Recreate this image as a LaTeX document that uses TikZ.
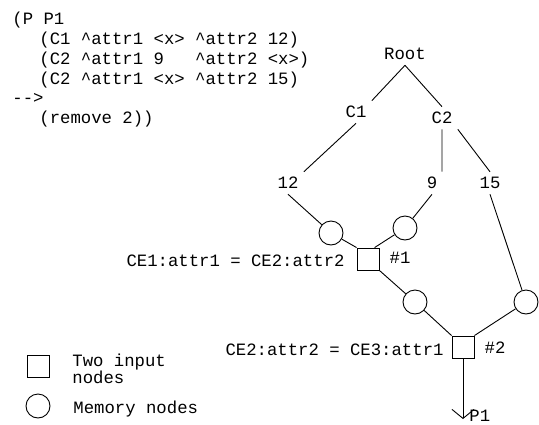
\documentclass[tikz,border=0pt]{standalone}
\usepackage{fontspec}
\setmonofont{Liberation Mono}
\usetikzlibrary{positioning,arrows.meta}

\tikzset{
  memory/.style={draw, circle, minimum size=24pt, inner sep=0pt},
  twoin/.style={draw, rectangle, minimum size=22pt, inner sep=0pt},
  val/.style={inner sep=5pt},
  rule/.style={anchor=base west, inner sep=0pt},
}

\begin{document}
\begin{tikzpicture}[x=1pt, y=-1pt, font=\ttfamily\fontsize{17.3}{19}\selectfont, line width=0.9pt, >={Straight Barb[length=9pt,width=22pt]}]
    \useasboundingbox (0,0) rectangle (539,424);
    \node[rule] (l1) at (12,24) {(P P1};
    \node[rule] (l2) at (39,44) {(C1 \textasciicircum attr1 <x> \textasciicircum attr2 12)};
    \node[rule] (l3) at (39,64) {(C2 \textasciicircum attr1 9\ \ \ \textasciicircum attr2 <x>)};
    \node[rule] (l4) at (39,84) {(C2 \textasciicircum attr1 <x> \textasciicircum attr2 15)};
    \node[rule] (l5) at (12,103.5) {-{}-{}>};
    \node[rule] (l6) at (39,123) {(remove 2))};

    \node[val] (root) at (405,54) {Root};
    \node[val] (c1) at (356,112) {C1};
    \node[val] (c2) at (442,118) {C2};
    \node[val] (v12) at (288,183) {12};
    \node[val] (v9) at (432,183) {9};
    \node[val] (v15) at (490,183) {15};
    \node[memory] (m1) at (331,233) {};
    \node[memory] (m2) at (405,228) {};
    \node[twoin] (j1) at (368,259) {};
    \node[inner sep=0pt] (j1lab) at (400,258) {\#1};
    \node[anchor=east, inner sep=0pt] (t1) at (345,261) {CE1:attr1 = CE2:attr2};
    \node[memory] (m3) at (415,302) {};
    \node[memory] (m4) at (526,302) {};
    \node[twoin] (j2) at (463,347) {};
    \node[inner sep=0pt] (j2lab) at (495,348) {\#2};
    \node[anchor=east, inner sep=0pt] (t2) at (444,350) {CE2:attr2 = CE3:attr1};
    \coordinate (out) at (463,419);
    \node[anchor=west, inner sep=0pt] (p1) at (469,416) {P1};

    \node[twoin] (keysq) at (38,366) {};
    \node[anchor=west, align=left, inner sep=0pt, font=\ttfamily\fontsize{17.3}{13}\selectfont] (keysqt) at (72,369) {Two input\\nodes};
    \node[memory] (keyci) at (38,406) {};
    \node[anchor=west, inner sep=0pt] (keycit) at (73,409) {Memory nodes};

    \draw (root.south) -- (c1.north east)
          (root.south) -- (c2.north)
          (c1.south) -- (v12.north east)
          (c2.south) -- (c2.south |- v9.north)
          (c2.south east) -- (v15.north)
          (v12.south) -- (m1)
          (v9.south) -- (m2)
          (v15.south) -- (m4)
          (m1) -- (j1.north west)
          (m2) -- (j1.60)
          (j1.south east) -- (m3)
          (m3) -- (j2.north west)
          (m4) -- (j2.north east);
    \draw[->] (j2.south) -- (out);
\end{tikzpicture}
\end{document}
